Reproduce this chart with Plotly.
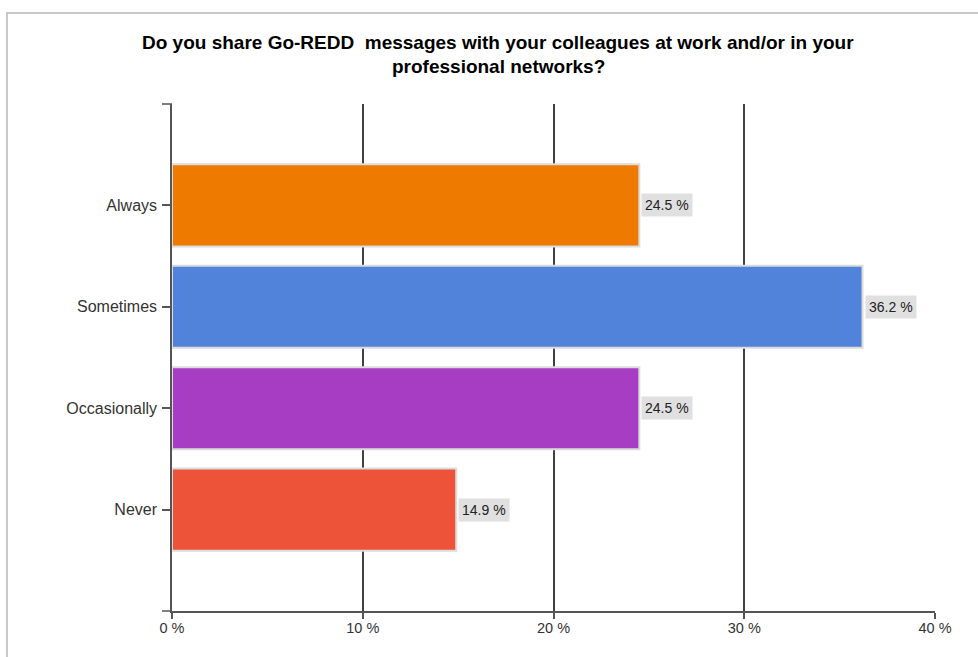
import plotly.graph_objects as go

categories = ["Always", "Sometimes", "Occasionally", "Never"]
values = [24.5, 36.2, 24.5, 14.9]
colors = ["#EE7A00", "#5283DA", "#A73DC3", "#EC5338"]
x_ticks = [0, 10, 20, 30, 40]
x_tick_labels = ["0 %", "10 %", "20 %", "30 %", "40 %"]
title_lines = ["Do you share Go-REDD&nbsp; messages with your colleagues at work and/or in your",
               "professional networks?"]

W, H = 978, 657
L, R, T, B = 172, 43, 104, 46
pw, ph = W - L - R, H - T - B

fig = go.Figure()
fig.add_trace(go.Bar(
    y=categories, x=values, orientation="h",
    width=0.81,
    marker=dict(color=colors, line=dict(color="#DCDCDC", width=2)),
    hoverinfo="x+y",
))

for c, v in zip(categories, values):
    fig.add_annotation(
        x=v, y=c, xref="x", yref="y",
        text=f"{v:.1f} %", showarrow=False,
        xanchor="left", yanchor="middle", xshift=2,
        bgcolor="#E0E0E0", borderpad=3,
        font=dict(family="Liberation Sans, Arial", size=14, color="#222"),
    )

def px_x(p):
    return (p - L) / pw

def px_y(p):
    return (H - B - p) / ph

# two-line title placed as text annotations
for line, yc in zip(title_lines, [42, 66]):
    fig.add_annotation(
        x=px_x(498), y=px_y(yc), xref="paper", yref="paper",
        text=f"<b>{line}</b>", showarrow=False,
        xanchor="center", yanchor="middle",
        font=dict(family="Liberation Sans, Arial", size=19, color="black"),
    )

# outer light border of the chart area
fig.add_shape(type="rect", xref="paper", yref="paper",
              x0=px_x(7), x1=px_x(1000), y0=px_y(680), y1=px_y(13),
              line=dict(color="#C8C8C8", width=2), layer="below")
# small top tick on y axis and left extension of x axis
fig.add_shape(type="line", xref="paper", yref="paper",
              x0=px_x(162), x1=0, y0=1, y1=1,
              line=dict(color="#555", width=1.5))
fig.add_shape(type="line", xref="paper", yref="paper",
              x0=px_x(162), x1=0, y0=0, y1=0,
              line=dict(color="#555", width=1.5))

fig.update_layout(
    width=W, height=H,
    margin=dict(l=L, r=R, t=T, b=B),
    paper_bgcolor="white", plot_bgcolor="white",
    showlegend=False,
    font=dict(family="Liberation Sans, Arial", color="#222"),
    xaxis=dict(range=[0, 40], tickvals=x_ticks, ticktext=x_tick_labels,
               showgrid=True, gridcolor="#404040", gridwidth=1.5,
               showline=True, linecolor="#555", linewidth=1.5,
               ticks="outside", ticklen=6, tickcolor="#555", tickwidth=1.5,
               tickfont=dict(size=14.5, color="#333"), zeroline=False,
               ticklabelstandoff=-3, fixedrange=True),
    yaxis=dict(categoryorder="array", categoryarray=categories,
               range=[4, -1], showgrid=False,
               showline=True, linecolor="#555", linewidth=1.5,
               ticks="outside", ticklen=8, tickcolor="#555", tickwidth=1.5,
               tickfont=dict(size=16, color="#333"), ticklabelstandoff=2,
               fixedrange=True),
    bargap=0.19,
)

fig.write_html("out.html", config={"displayModeBar": False},
               post_script="document.body.style.margin='0';document.body.style.overflow='hidden';")
